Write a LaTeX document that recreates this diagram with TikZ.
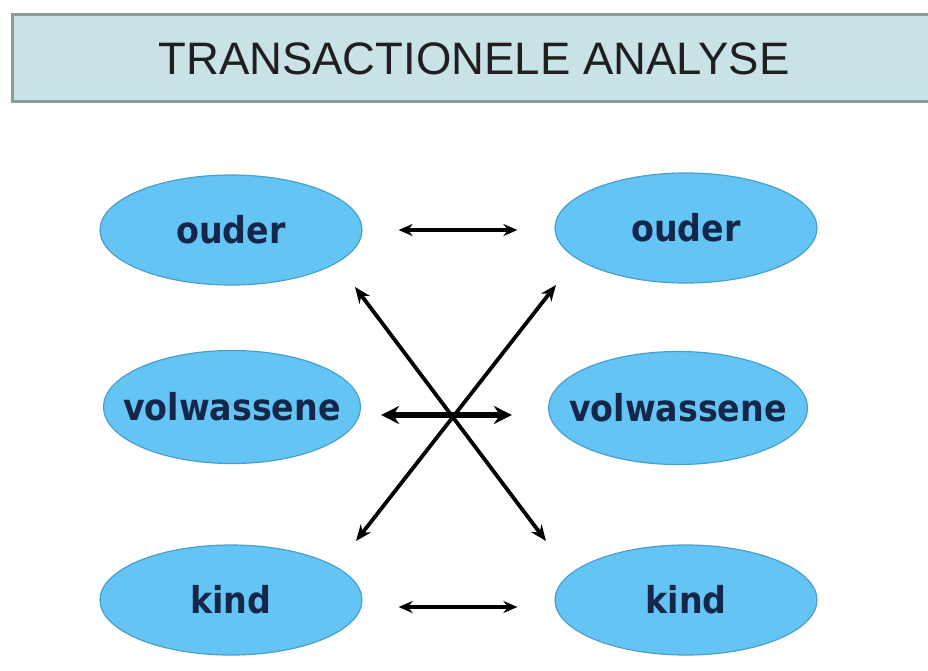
\documentclass[tikz,border=0pt]{standalone}
\usepackage{fontspec}
\setmainfont{Liberation Sans}
\newfontfamily\ellfont{DejaVu Sans Condensed}
\usetikzlibrary{shapes.geometric,arrows.meta}
\definecolor{titlefill}{HTML}{C8E2E6}
\definecolor{titleborder}{HTML}{8C9A9A}
\definecolor{ellfill}{HTML}{64C4F3}
\definecolor{ellborder}{HTML}{4A9FCB}
\definecolor{elltext}{HTML}{14264A}
\tikzset{
  rolebox/.style={ellipse, draw=ellborder, line width=1.2pt, fill=ellfill,
    minimum width=262pt, minimum height=110pt, inner xsep=-40pt, inner ysep=0pt,
    font=\ellfont\bfseries\fontsize{37}{40}\selectfont, text=elltext},
  txarrow/.style={line width=3.2pt, {Stealth[length=14pt,width=12pt]}-{Stealth[length=14pt,width=12pt]}},
  txdiag/.style={line width=3.8pt, {Stealth[length=16pt,width=13pt]}-{Stealth[length=16pt,width=13pt]}},
  txarrowthick/.style={line width=6pt, {Stealth[length=18pt,width=18pt]}-{Stealth[length=18pt,width=18pt]}}
}
\begin{document}
\begin{tikzpicture}[x=1pt,y=-1pt]
\useasboundingbox (0,0) rectangle (928,670);
\fill[white] (0,0) rectangle (928,670);
\node[draw=titleborder, line width=3pt, fill=titlefill, minimum width=928pt, minimum height=87pt,
  anchor=north west, inner sep=0pt] (title) at (11,13) {};
\node[text=black!88] (titletext) at (474,59) {\fontsize{45.5}{50}\selectfont TRANSACTIONELE ANALYSE};
\node[rolebox] (po1) at (231,230) {ouder};
\node[rolebox] (po2) at (686,228) {ouder};
\node[rolebox, minimum width=257pt, minimum height=113pt] (vo1) at (232,407) {volwassene};
\node[rolebox, minimum width=259pt, minimum height=113pt] (vo2) at (678,408) {volwassene};
\node[rolebox] (ki1) at (231,600) {kind};
\node[rolebox] (ki2) at (686,600) {kind};
\coordinate (dA1) at (355,287);
\coordinate (dA2) at (546,541);
\coordinate (dB1) at (556,285);
\coordinate (dB2) at (356,541);
\draw[txarrow, shorten <=36pt, shorten >=37pt] (po1.east) -- (po1.east -| po2.west);
\draw[txarrowthick, shorten <=20pt, shorten >=36pt] ([yshift=-8pt]vo1.east) -- ([yshift=-8pt]vo1.east -| vo2.west);
\draw[txarrow, shorten <=36pt, shorten >=37pt] ([yshift=-7pt]ki1.east) -- ([yshift=-7pt]ki1.east -| ki2.west);
\draw[txdiag] (dA1) -- (dA2);
\draw[txdiag] (dB1) -- (dB2);
\end{tikzpicture}
\end{document}
